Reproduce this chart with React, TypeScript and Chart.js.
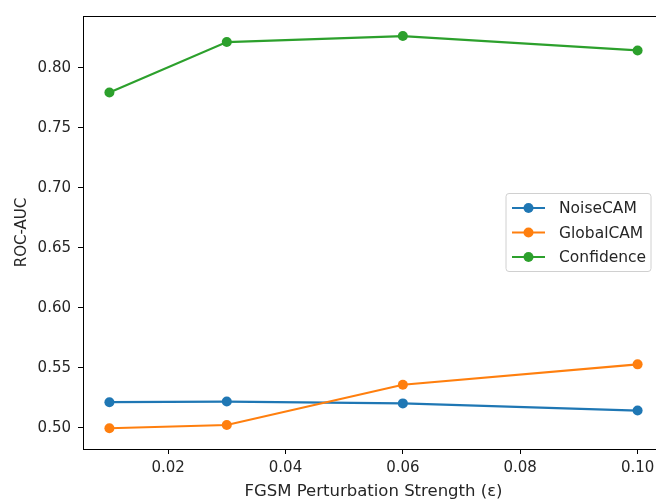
import { useEffect, useRef } from 'react';
import { Chart, registerables } from 'chart.js';

Chart.register(...registerables);

const epsilons = [0.01, 0.03, 0.06, 0.10];
const noiseCam = [0.5215, 0.522, 0.5205, 0.5145];
const globalCam = [0.4998, 0.5025, 0.536, 0.553];
const confidence = [0.7795, 0.8215, 0.8265, 0.8145];
const seriesNames = ['NoiseCAM', 'GlobalCAM', 'Confidence'];
const seriesColors = ['#1f77b4', '#ff7f0e', '#2ca02c'];
const xTicks = [0.02, 0.04, 0.06, 0.08, 0.10];
const yTicks = [0.50, 0.55, 0.60, 0.65, 0.70, 0.75, 0.80];
const xTitle = 'FGSM Perturbation Strength (ε)';
const yTitle = 'ROC-AUC';

const FONT = 'DejaVu Sans';
const TEXT = '#262626';

const framePlugin = {
  id: 'frame',
  afterDatasetsDraw(chart: any) {
    const { ctx, chartArea } = chart;
    ctx.save();
    ctx.strokeStyle = '#000';
    ctx.lineWidth = 1;
    ctx.strokeRect(
      Math.round(chartArea.left) + 0.5,
      Math.round(chartArea.top) + 0.5,
      Math.round(chartArea.right - chartArea.left),
      Math.round(chartArea.bottom - chartArea.top)
    );
    ctx.restore();
  },
  afterDraw(chart: any) {
    const { ctx, chartArea } = chart;
    const boxW = 145;
    const boxH = 78;
    const right = chartArea.right - 13;
    const cy = (chartArea.top + chartArea.bottom) / 2;
    const left = right - boxW;
    const top = cy - boxH / 2;
    ctx.save();
    ctx.beginPath();
    const r = 3;
    ctx.moveTo(left + r, top);
    ctx.lineTo(left + boxW - r, top);
    ctx.quadraticCurveTo(left + boxW, top, left + boxW, top + r);
    ctx.lineTo(left + boxW, top + boxH - r);
    ctx.quadraticCurveTo(left + boxW, top + boxH, left + boxW - r, top + boxH);
    ctx.lineTo(left + r, top + boxH);
    ctx.quadraticCurveTo(left, top + boxH, left, top + boxH - r);
    ctx.lineTo(left, top + r);
    ctx.quadraticCurveTo(left, top, left + r, top);
    ctx.closePath();
    ctx.fillStyle = 'rgba(255,255,255,0.8)';
    ctx.fill();
    ctx.strokeStyle = '#d0d0d0';
    ctx.lineWidth = 1;
    ctx.stroke();
    ctx.font = `15.5px "${FONT}"`;
    ctx.textBaseline = 'middle';
    seriesNames.forEach((name, i) => {
      const y = top + 14.5 + i * 24.5;
      ctx.strokeStyle = seriesColors[i];
      ctx.lineWidth = 2;
      ctx.beginPath();
      ctx.moveTo(left + 6, y);
      ctx.lineTo(left + 39, y);
      ctx.stroke();
      ctx.fillStyle = seriesColors[i];
      ctx.beginPath();
      ctx.arc(left + 22.5, y, 5, 0, Math.PI * 2);
      ctx.fill();
      ctx.fillStyle = TEXT;
      ctx.fillText(name, left + 53, y + 1);
    });
    ctx.restore();
  },
};

export default function App() {
  const ref = useRef<HTMLCanvasElement>(null);
  useEffect(() => {
    if (!ref.current) return;
    const series = [noiseCam, globalCam, confidence];
    const chart = new Chart(ref.current, {
      type: 'line',
      data: {
        datasets: series.map((vals, i) => ({
          label: seriesNames[i],
          data: epsilons.map((x, j) => ({ x, y: vals[j] })),
          borderColor: seriesColors[i],
          backgroundColor: seriesColors[i],
          borderWidth: 2.2,
          pointRadius: 5,
          pointBorderWidth: 0,
          pointHoverRadius: 5,
          tension: 0,
          order: 3 - i,
        })),
      },
      options: {
        animation: false,
        responsive: false,
        maintainAspectRatio: false,
        events: [],
        layout: { padding: { top: 15, right: 36, left: 0, bottom: 0 } },
        plugins: { legend: { display: false }, tooltip: { enabled: false } },
        scales: {
          x: {
            type: 'linear',
            min: 0.0055,
            max: 0.1045,
            afterBuildTicks: (s: any) => {
              s.ticks = xTicks.map((v) => ({ value: v }));
            },
            afterFit: (s: any) => {
              s.height = 51;
            },
            grid: { drawOnChartArea: false, drawTicks: true, tickLength: 5, color: '#000' },
            border: { display: true, color: '#000' },
            ticks: {
              padding: 5,
              color: TEXT,
              font: { family: FONT, size: 15 },
              maxRotation: 0,
              callback: (v: any) => Number(v).toFixed(2),
            },
            title: {
              display: true,
              text: xTitle,
              color: TEXT,
              font: { family: FONT, size: 16.5 },
              padding: { top: 0, bottom: -2 },
            },
          },
          y: {
            type: 'linear',
            min: 0.4825,
            max: 0.8432,
            afterBuildTicks: (s: any) => {
              s.ticks = yTicks.map((v) => ({ value: v }));
            },
            afterFit: (s: any) => {
              s.width = 83;
            },
            grid: { drawOnChartArea: false, drawTicks: true, tickLength: 5, color: '#000' },
            border: { display: true, color: '#000' },
            ticks: {
              padding: 7,
              color: TEXT,
              font: { family: FONT, size: 15 },
              callback: (v: any) => Number(v).toFixed(2),
            },
            title: {
              display: true,
              text: yTitle,
              color: TEXT,
              font: { family: FONT, size: 15 },
              padding: { top: 13, bottom: 0 },
            },
          },
        },
      },
      plugins: [framePlugin],
    });
    return () => chart.destroy();
  }, []);
  return (
    <div style={{ position: 'fixed', left: 0, top: 0, width: 656, height: 500, overflow: 'hidden', background: '#fff' }}>
      <canvas ref={ref} width={700} height={500} style={{ width: 700, height: 500, display: 'block' }} />
    </div>
  );
}
